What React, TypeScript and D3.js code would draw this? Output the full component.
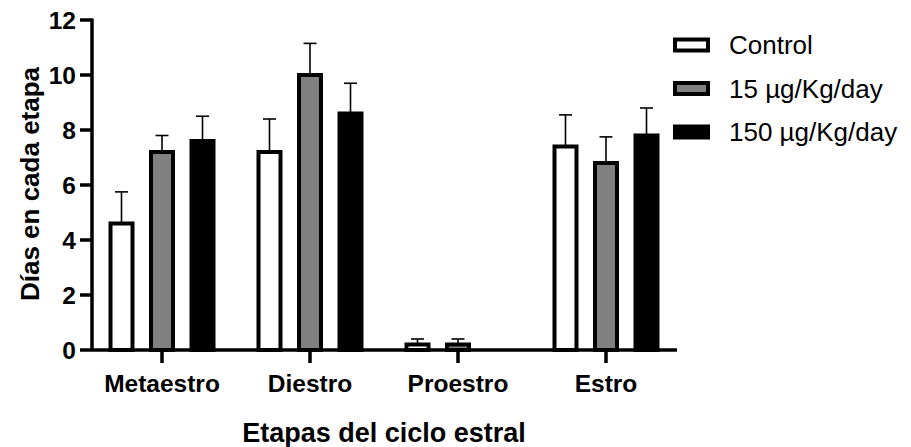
import * as d3 from 'd3';
import { useEffect, useRef } from 'react';

const categories = ['Metaestro', 'Diestro', 'Proestro', 'Estro'];
const series = ['Control', '15 µg/Kg/day', '150 µg/Kg/day'];
const fills = ['#ffffff', '#808080', '#000000'];
const controlMean = [4.6, 7.2, 0.2, 7.4];
const controlErr = [1.15, 1.2, 0.2, 1.15];
const lowMean = [7.2, 10, 0.2, 6.8];
const lowErr = [0.6, 1.15, 0.2, 0.95];
const highMean = [7.6, 8.6, 0, 7.8];
const highErr = [0.9, 1.1, 0, 1.0];
const yTicks = [0, 2, 4, 6, 8, 10, 12];

export default function App() {
  const ref = useRef<SVGSVGElement>(null);

  useEffect(() => {
    const svg = d3.select(ref.current);
    svg.selectAll('*').remove();
    const font = 'Liberation Sans, Arial, sans-serif';

    const y = d3.scaleLinear().domain([0, 12]).range([350, 20]);
    const x = d3.scaleBand().domain(categories).range([88, 680]);
    const inner = d3.scalePoint().domain(series).range([-40.5, 40.5]);

    const means = [controlMean, lowMean, highMean];
    const errs = [controlErr, lowErr, highErr];
    const data = categories.flatMap((c, ci) =>
      series.map((s, si) => ({ c, s, si, v: means[si][ci], e: errs[si][ci] }))
    );
    const cx = (d: any) => x(d.c)! + x.bandwidth() / 2 + inner(d.s)!;

    // error bars
    const eb = svg.append('g').selectAll('g').data(data.filter(d => d.e > 0)).enter().append('g');
    eb.append('line')
      .attr('x1', cx).attr('x2', cx)
      .attr('y1', d => y(d.v)).attr('y2', d => y(d.v + d.e))
      .attr('stroke', '#000').attr('stroke-width', 1.6);
    eb.append('line')
      .attr('x1', d => cx(d) - 6.5).attr('x2', d => cx(d) + 6.5)
      .attr('y1', d => y(d.v + d.e)).attr('y2', d => y(d.v + d.e))
      .attr('stroke', '#000').attr('stroke-width', 1.6);

    // bars
    svg.append('g').selectAll('rect').data(data.filter(d => d.v > 0)).enter().append('rect')
      .attr('x', d => cx(d) - 11)
      .attr('width', 22)
      .attr('y', d => y(d.v))
      .attr('height', d => y(0) - y(d.v))
      .attr('fill', d => fills[d.si])
      .attr('stroke', '#000')
      .attr('stroke-width', 4);

    // axes
    svg.append('line').attr('x1', 92).attr('x2', 677).attr('y1', y(0)).attr('y2', y(0))
      .attr('stroke', '#000').attr('stroke-width', 3.5);
    svg.append('line').attr('x1', 92).attr('x2', 92).attr('y1', y(12) - 1.5).attr('y2', y(0))
      .attr('stroke', '#000').attr('stroke-width', 3.5);

    const yt = svg.append('g').selectAll('g').data(yTicks).enter().append('g');
    yt.append('line').attr('x1', 80).attr('x2', 92).attr('y1', d => y(d)).attr('y2', d => y(d))
      .attr('stroke', '#000').attr('stroke-width', 3.5);
    yt.append('text').attr('x', 76).attr('y', d => y(d)).attr('dy', '0.36em')
      .attr('text-anchor', 'end').attr('font-family', font).attr('font-weight', 'bold')
      .attr('font-size', 24.5).text(d => d);

    const xt = svg.append('g').selectAll('g').data(categories).enter().append('g');
    xt.append('line')
      .attr('x1', d => x(d)! + x.bandwidth() / 2).attr('x2', d => x(d)! + x.bandwidth() / 2)
      .attr('y1', y(0)).attr('y2', 363)
      .attr('stroke', '#000').attr('stroke-width', 3.5);
    xt.append('text').attr('x', d => x(d)! + x.bandwidth() / 2).attr('y', 392)
      .attr('text-anchor', 'middle').attr('font-family', font).attr('font-weight', 'bold')
      .attr('font-size', 24.5).text(d => d);

    svg.append('text').attr('x', 384).attr('y', 442).attr('text-anchor', 'middle')
      .attr('font-family', font).attr('font-weight', 'bold').attr('font-size', 27)
      .text('Etapas del ciclo estral');

    svg.append('text').attr('transform', 'translate(39,184) rotate(-90)')
      .attr('text-anchor', 'middle').attr('font-family', font).attr('font-weight', 'bold')
      .attr('font-size', 26).text('Días en cada etapa');

    // legend
    const lg = svg.append('g').selectAll('g').data(series).enter().append('g')
      .attr('transform', (d, i) => `translate(673,${45 + i * 43.5})`);
    lg.append('rect').attr('x', 2).attr('y', -5.5).attr('width', 33).attr('height', 11)
      .attr('fill', (d, i) => fills[i]).attr('stroke', '#000').attr('stroke-width', 4);
    lg.append('text').attr('x', 56).attr('y', 0).attr('dy', '0.36em')
      .attr('font-family', font).attr('font-size', 26).text(d => d);
  }, []);

  return <svg ref={ref} width={911} height={447} style={{ display: 'block', margin: '-8px 0 0 -8px' }} />;
}
